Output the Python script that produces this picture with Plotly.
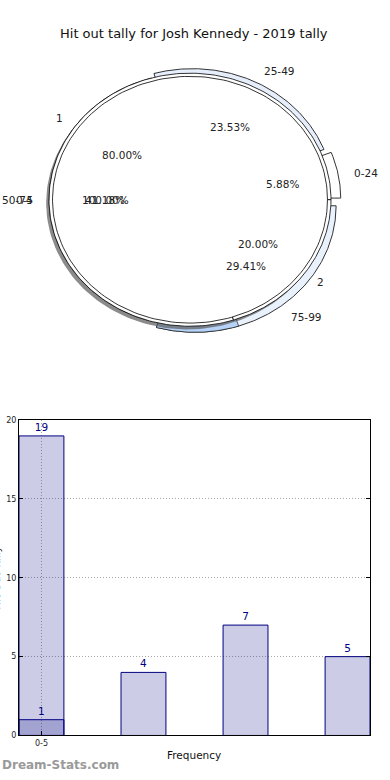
import numpy as np
import plotly.graph_objects as go

# ---------------- data ----------------
TITLE = "Hit out tally for Josh Kennedy - 2019 tally"

range_labels = ["0-24", "25-49", "50-74", "75-99"]
range_counts = [1, 4, 7, 5]

tally_labels = ["1", "2"]
tally_counts = [4, 1]

bin_labels = ["0-5"]
bin_counts = [1]

bar_positions = [0, 1, 2, 3]
bar_values = [19, 4, 7, 5]
overlay_positions = [0]
overlay_values = [1]
tick_labels = ["0-5"]

# ---------------- style ----------------
FONT = "DejaVu Sans"
W, H = 390, 780
CX_PX, CY_PX = 190, 198      # pie centre in pixels
RX_PX, RY_PX = 141, 128      # pixels per pie-radius unit
PIE_TOP_PX, PIE_BOT_PX = 40, 360

range_explode = [0.07, 0.04, 0.0, 0.06]
range_colors = ["#ffffff", "#e7eefb", "#ffffff", "#e9f1fd"]
highlight_color = "#b6d3f7"
shadow_color = "rgba(90,90,90,0.7)"
TXT = "#222222"

fig = go.Figure()


def arc(cx, cy, r, t1, t2, n=200):
    t = np.radians(np.linspace(t1, t2, n))
    return cx + r * np.cos(t), cy + r * np.sin(t)


def wedge(cx, cy, r, t1, t2):
    xs, ys = arc(cx, cy, r, t1, t2)
    return np.r_[cx, xs, cx], np.r_[cy, ys, cy]


annotations = []


def add_text(x, y, text, xanchor="center", size=10.5):
    annotations.append(dict(x=x, y=y, xref="x2", yref="y2", text=text, showarrow=False,
                            xanchor=xanchor, yanchor="middle",
                            font=dict(family=FONT, size=size, color=TXT)))


def pie_texts(labels, counts, radius, explode=None, label_dist=1.1, pct_dist=0.6):
    total = sum(counts)
    start = 0.0
    for i, (lab, c) in enumerate(zip(labels, counts)):
        span = 360.0 * c / total
        mid = np.radians(start + span / 2)
        e = explode[i] if explode else 0.0
        ox, oy = e * np.cos(mid), e * np.sin(mid)
        lx, ly = ox + label_dist * radius * np.cos(mid), oy + label_dist * radius * np.sin(mid)
        add_text(lx, ly, lab, xanchor="left" if lx > 0 else "right")
        px, py = ox + pct_dist * radius * np.cos(mid), oy + pct_dist * radius * np.sin(mid)
        add_text(px, py, "%.2f%%" % (100.0 * c / total))
        start += span


def poly(xs, ys, fill, line_color="black", width=0.8):
    fig.add_trace(go.Scatter(x=xs, y=ys, mode="lines", fill="toself", fillcolor=fill,
                             line=dict(color=line_color, width=width),
                             hoverinfo="skip", showlegend=False, xaxis="x2", yaxis="y2"))


# outer (range) pie, exploded wedges
rtot = sum(range_counts)
start = 0.0
range_geo = []
for i, c in enumerate(range_counts):
    span = 360.0 * c / rtot
    mid = np.radians(start + span / 2)
    ox, oy = range_explode[i] * np.cos(mid), range_explode[i] * np.sin(mid)
    xs, ys = wedge(ox, oy, 1.0, start, start + span)
    poly(xs, ys, range_colors[i])
    range_geo.append((start, start + span, ox, oy))
    start += span

# highlighted part of last range wedge up to the end of the first tally wedge
ttot = sum(tally_counts)
t_end_first = 360.0 * tally_counts[0] / ttot
s, e, ox, oy = range_geo[-1]
xs, ys = wedge(ox, oy, 1.0, s, t_end_first)
poly(xs, ys, highlight_color, width=0.6)

# shadow of the inner pies
xs, ys = arc(-0.02, -0.025, 1.0, 0, 360)
fig.add_trace(go.Scatter(x=xs, y=ys, mode="lines", fill="toself", fillcolor=shadow_color,
                         line=dict(color="rgba(0,0,0,0)", width=0), hoverinfo="skip",
                         showlegend=False, xaxis="x2", yaxis="y2"))

# tally pie
start = 0.0
for c in tally_counts:
    span = 360.0 * c / ttot
    xs, ys = wedge(0, 0, 1.0, start, start + span)
    poly(xs, ys, "#ffffff")
    start += span

# bin pie (100% -> full circle, no radial edge)
xs, ys = arc(0, 0, 0.975, 0, 360)
poly(xs, ys, "#ffffff")

pie_texts(range_labels, range_counts, 1.0, explode=range_explode)
pie_texts(tally_labels, tally_counts, 1.0)
pie_texts(bin_labels, bin_counts, 1.0)

# ---------------- bar chart ----------------
fig.add_trace(go.Bar(x=bar_positions, y=bar_values, width=0.44,
                     marker=dict(color="rgba(0,0,128,0.2)", line=dict(color="#000080", width=1)),
                     text=bar_values, textposition="outside", cliponaxis=False,
                     textfont=dict(family=FONT, size=10.5, color="#000080"),
                     hoverinfo="skip", showlegend=False, xaxis="x", yaxis="y"))
fig.add_trace(go.Bar(x=overlay_positions, y=overlay_values, width=0.44,
                     marker=dict(color="rgba(0,0,128,0.2)", line=dict(color="#000080", width=1)),
                     text=overlay_values, textposition="outside", cliponaxis=False,
                     textfont=dict(family=FONT, size=10.5, color="#000080"),
                     hoverinfo="skip", showlegend=False, xaxis="x", yaxis="y"))

bar_dom_x = [19 / W, 370 / W]
bar_dom_y = [1 - 740 / H, 1 - 421 / H]
pie_dom_y = [1 - PIE_BOT_PX / H, 1 - PIE_TOP_PX / H]

annotations.append(dict(x=194 / W, y=1 - 30 / H, xref="paper", yref="paper", text=TITLE,
                        showarrow=False, xanchor="center", yanchor="middle",
                        font=dict(family=FONT, size=13, color="#111111")))
annotations.append(dict(x=194 / W, y=1 - 760 / H, xref="paper", yref="paper",
                        text="Frequency", showarrow=False, xanchor="center", yanchor="middle",
                        font=dict(family=FONT, size=10.5, color="#111111")))
annotations.append(dict(x=-4 / W, y=(bar_dom_y[0] + bar_dom_y[1]) / 2, xref="paper", yref="paper",
                        text="Hit Out Tally", textangle=-90, showarrow=False,
                        xanchor="center", yanchor="middle",
                        font=dict(family=FONT, size=10.5, color="#111111")))
annotations.append(dict(x=0, y=1 - 770 / H, xref="paper", yref="paper",
                        text="<b>Dream-Stats.com</b>",
                        showarrow=False, xanchor="left", yanchor="middle",
                        font=dict(family=FONT, size=12, color="#9a9a9a")))

grid = dict(showgrid=True, gridcolor="#a8a8a8", griddash="1px,2px", gridwidth=1)
fig.update_layout(
    width=W, height=H, margin=dict(l=0, r=0, t=0, b=0),
    paper_bgcolor="white", plot_bgcolor="white",
    barmode="overlay", bargap=0,
    annotations=annotations,
    xaxis=dict(domain=bar_dom_x, range=[-0.22, 3.22], tickvals=[0], ticktext=tick_labels,
               showline=True, mirror=True, linecolor="black", linewidth=1,
               ticks="inside", ticklen=4, tickcolor="black",
               zeroline=False, tickfont=dict(family=FONT, size=8, color="#222"), **grid),
    yaxis=dict(domain=bar_dom_y, range=[0, 20], tickvals=[0, 5, 10, 15, 20],
               showline=True, mirror="ticks", linecolor="black", linewidth=1,
               ticks="inside", ticklen=4, tickcolor="black",
               zeroline=False, tickfont=dict(family=FONT, size=8, color="#222"), **grid),
    xaxis2=dict(domain=[0, 1], range=[-CX_PX / RX_PX, (W - CX_PX) / RX_PX], visible=False),
    yaxis2=dict(domain=pie_dom_y, range=[-(PIE_BOT_PX - CY_PX) / RY_PX, (CY_PX - PIE_TOP_PX) / RY_PX],
                visible=False),
)

fig.write_html("out.html", config={"displayModeBar": False, "staticPlot": True},
               post_script="document.body.style.margin='0px';document.body.style.overflow='hidden';")
